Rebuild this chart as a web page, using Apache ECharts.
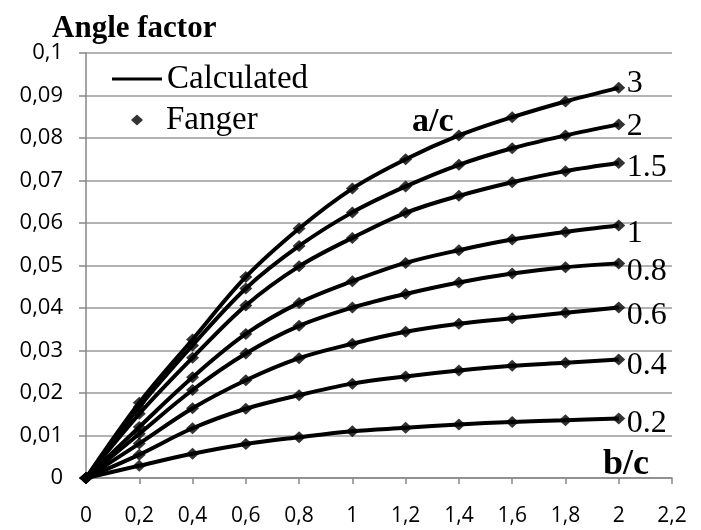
<!DOCTYPE html>
<html><head><meta charset="utf-8">
<script src="https://cdn.jsdelivr.net/npm/echarts@6/dist/echarts.min.js"></script>
<style>html,body{margin:0;padding:0;background:#fff}#c{width:701px;height:530px}</style>
</head><body><div id="c"></div>
<script>
// b/c values (x axis)
const bc = [0, 0.2, 0.4, 0.6, 0.8, 1.0, 1.2, 1.4, 1.6, 1.8, 2.0];
// angle factor for each a/c
const ac_0_2 = [0, 0.0029, 0.0057, 0.0080, 0.0096, 0.0110, 0.0118, 0.0126, 0.0132, 0.0136, 0.0140];
const ac_0_4 = [0, 0.0055, 0.0117, 0.0163, 0.0195, 0.0222, 0.0239, 0.0253, 0.0264, 0.0271, 0.0279];
const ac_0_6 = [0, 0.0081, 0.0164, 0.0230, 0.0282, 0.0316, 0.0344, 0.0363, 0.0376, 0.0389, 0.0401];
const ac_0_8 = [0, 0.0104, 0.0207, 0.0293, 0.0358, 0.0401, 0.0433, 0.0460, 0.0481, 0.0496, 0.0505];
const ac_1   = [0, 0.0120, 0.0237, 0.0339, 0.0412, 0.0463, 0.0506, 0.0536, 0.0561, 0.0579, 0.0594];
const ac_1_5 = [0, 0.0151, 0.0283, 0.0406, 0.0498, 0.0565, 0.0624, 0.0664, 0.0696, 0.0722, 0.0741];
const ac_2   = [0, 0.0167, 0.0312, 0.0446, 0.0546, 0.0625, 0.0686, 0.0737, 0.0776, 0.0806, 0.0832];
const ac_3   = [0, 0.0177, 0.0326, 0.0473, 0.0587, 0.0681, 0.0750, 0.0806, 0.0849, 0.0886, 0.0918];
const curveLabels = ['0.2', '0.4', '0.6', '0.8', '1', '1.5', '2', '3'];
const curveValues = [ac_0_2, ac_0_4, ac_0_6, ac_0_8, ac_1, ac_1_5, ac_2, ac_3];
const legendNames = ['Calculated', 'Fanger'];

// label vertical nudges (style only)
const labelNudge = {'0.2': 5, '0.4': 6, '0.6': 8, '0.8': 8, '1': 8, '1.5': 5, '2': 2, '3': -4};

const serif = '"Liberation Serif", "Times New Roman", serif';
const sans = 'Open Sans';
const comma = v => String(+v.toFixed(2)).replace('.', ',');

const series = [];
curveValues.forEach((vals, i) => {
  const pts = bc.map((x, j) => [x, vals[j]]);
  series.push({
    name: legendNames[0], type: 'line', data: pts, smooth: 0.35,
    showSymbol: false, symbol: 'none',
    lineStyle: {color: '#000', width: 4}, itemStyle: {color: '#000'},
    z: 2, animation: false,
    endLabel: {show: true, formatter: curveLabels[i], color: '#000',
      fontFamily: serif, fontSize: 32, distance: 8, offset: [0, labelNudge[curveLabels[i]]]}
  });
});
curveValues.forEach((vals) => {
  series.push({
    name: legendNames[1], type: 'scatter', data: bc.map((x, j) => [x, vals[j]]),
    symbol: 'diamond', symbolSize: [13, 12], itemStyle: {color: '#000'}, z: 3, animation: false
  });
});

const chart = echarts.init(document.getElementById('c'));
chart.setOption({
  backgroundColor: '#fff',
  animation: false,
  title: {text: 'Angle factor', left: 52, top: 14, padding: 0,
    textStyle: {fontFamily: serif, fontWeight: 'bold', fontSize: 31, color: '#000', lineHeight: 30}},
  legend: [
    {data: [{name: legendNames[0], icon: 'rect'}], left: 112, top: 62, padding: 0,
     itemWidth: 50, itemHeight: 3, selectedMode: false,
     textStyle: {fontFamily: serif, fontSize: 33, color: '#000', lineHeight: 34}},
    {data: [{name: legendNames[1], icon: 'diamond'}], left: 131, top: 103, padding: 0,
     itemWidth: 12, itemHeight: 11, selectedMode: false,
     textStyle: {fontFamily: serif, fontSize: 33, color: '#000', lineHeight: 34, padding: [0, 0, 0, 18]}}
  ],
  grid: {left: 86, right: 29, top: 53, bottom: 52, containLabel: false, outerBoundsMode: 'none'},
  xAxis: {type: 'value', min: 0, max: 2.2, interval: 0.2,
    axisLine: {lineStyle: {color: '#868686', width: 1.5}},
    axisTick: {show: true, length: 6, lineStyle: {color: '#868686', width: 1.5}},
    splitLine: {show: false},
    axisLabel: {formatter: comma, margin: 28, fontSize: 21, fontFamily: sans, color: '#000'}},
  yAxis: {type: 'value', min: 0, max: 0.1, interval: 0.01,
    axisLine: {show: true, lineStyle: {color: '#868686', width: 1.5}},
    axisTick: {show: true, length: 7, lineStyle: {color: '#868686', width: 1.5}},
    splitLine: {show: true, lineStyle: {color: '#9a9a9a', width: 1.5}},
    axisLabel: {formatter: comma, margin: 23, fontSize: 22, fontFamily: sans, color: '#000'}},
  graphic: [
    {type: 'text', left: 412, top: 105, style: {text: 'a/c', fontFamily: serif, fontWeight: 'bold', fontSize: 34, fill: '#000'}},
    {type: 'text', left: 603, top: 447, style: {text: 'b/c', fontFamily: serif, fontWeight: 'bold', fontSize: 36, fill: '#000'}}
  ],
  series: series
});
</script>
</body></html>
